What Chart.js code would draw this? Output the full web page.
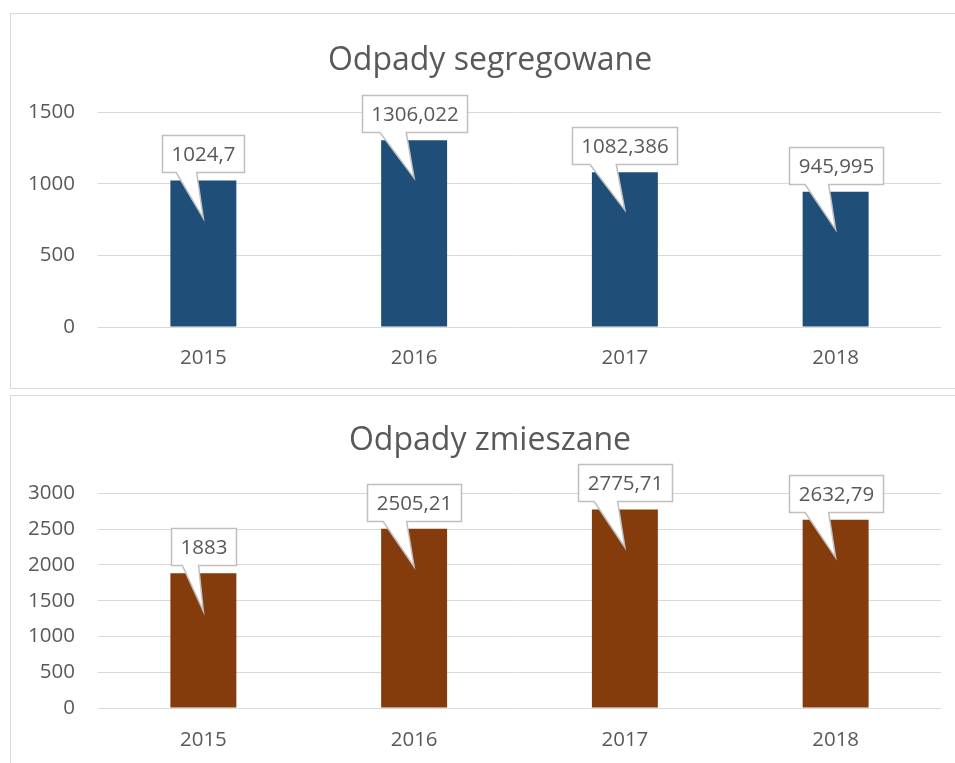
<!DOCTYPE html>
<html lang="pl">
<head>
<meta charset="utf-8">
<title>Odpady</title>
<script src="https://cdn.jsdelivr.net/npm/chart.js@4.4.1/dist/chart.umd.min.js"></script>
<style>
  html, body { margin: 0; padding: 0; background: #fff; overflow: hidden; width: 955px; height: 763px; }
  .box { position: absolute; left: 10px; width: 968px; height: 374px; border: 1px solid #d9d9d9; background: #fff; }
  .box canvas { display: block; }
</style>
</head>
<body>
<div class="box" style="top:13px"><canvas id="c-seg" width="968" height="374"></canvas></div>
<div class="box" style="top:395px"><canvas id="c-mix" width="968" height="374"></canvas></div>
<script>
const YEARS = ["2015", "2016", "2017", "2018"];
const SEGREGOWANE = [1024.7, 1306.022, 1082.386, 945.995];
const ZMIESZANE = [1883, 2505.21, 2775.71, 2632.79];
const SEG_TICKS = { max: 1500, step: 500 };
const MIX_TICKS = { max: 3000, step: 500 };

const TEXT = "#595959";
const GRID = "#d9d9d9";
const FONT = "'Open Sans', sans-serif";
const LABEL_SIZE = 20.5;

Chart.defaults.font.family = FONT;
Chart.defaults.color = TEXT;

function plLabel(v) { return String(v).replace(".", ","); }

// title is centred on the whole frame in the original, not on the plot
const titleShift = {
  id: "titleShift",
  afterLayout(chart) {
    if (chart.titleBlock) chart.titleBlock.left += 28;
  },
};

// Excel-style callout: box above the bar, wedge pointing down into it
const callouts = {
  id: "callouts",
  afterDatasetsDraw(chart) {
    const ctx = chart.ctx;
    const meta = chart.getDatasetMeta(0);
    const values = chart.data.datasets[0].data;
    ctx.save();
    ctx.font = LABEL_SIZE + "px " + FONT;
    meta.data.forEach((bar, i) => {
      const txt = plLabel(values[i]);
      const w = Math.round(ctx.measureText(txt).width) + 18;
      const h = 37;
      const left = Math.round(bar.x - w / 2) + 0.5;
      const bottom = Math.round(bar.y - 8) + 0.5;
      const top = bottom - h;
      const tipY = bar.y + 38;
      ctx.beginPath();
      ctx.moveTo(left, top);
      ctx.lineTo(left + w, top);
      ctx.lineTo(left + w, bottom);
      ctx.lineTo(left + w * 5 / 12, bottom);
      ctx.lineTo(bar.x, tipY);
      ctx.lineTo(left + w * 2 / 12, bottom);
      ctx.lineTo(left, bottom);
      ctx.closePath();
      ctx.fillStyle = "#fff";
      ctx.fill();
      ctx.strokeStyle = "#bfbfbf";
      ctx.lineWidth = 1.5;
      ctx.lineJoin = "miter";
      ctx.stroke();
      ctx.fillStyle = TEXT;
      ctx.textAlign = "center";
      ctx.textBaseline = "middle";
      ctx.fillText(txt, left + w / 2, top + h / 2 + 1);
    });
    ctx.restore();
  },
};

function makeChart(id, title, data, color, ticks, titlePad, xPad) {
  return new Chart(document.getElementById(id), {
    type: "bar",
    data: {
      labels: YEARS,
      datasets: [{ label: title, data, backgroundColor: color, categoryPercentage: 1, barPercentage: 0.313 }],
    },
    options: {
      responsive: false,
      animation: false,
      layout: { padding: { left: 0, right: 38, top: 0, bottom: 18 } },
      plugins: {
        legend: { display: false },
        tooltip: { enabled: false },
        title: {
          display: true,
          text: title,
          color: TEXT,
          font: { size: 32, weight: "normal", lineHeight: 1.2 },
          padding: titlePad,
        },
      },
      scales: {
        x: {
          afterFit: (s) => { s.height = xPad + 24; },
          grid: { display: false, drawTicks: false },
          border: { display: false },
          ticks: { color: TEXT, font: { size: LABEL_SIZE, lineHeight: 1.2 }, padding: xPad },
        },
        y: {
          min: 0,
          max: ticks.max,
          afterFit: (s) => { s.width = 87; },
          grid: { color: GRID, lineWidth: 1, drawTicks: false },
          border: { display: false },
          ticks: { color: TEXT, stepSize: ticks.step, padding: 23, font: { size: LABEL_SIZE }, callback: (v) => String(v) },
        },
      },
    },
    plugins: [titleShift, callouts],
  });
}

makeChart("c-seg", "Odpady segregowane", SEGREGOWANE, "#1f4e79", SEG_TICKS, { top: 28, bottom: 32 }, 19);
makeChart("c-mix", "Odpady zmieszane", ZMIESZANE, "#843c0c", MIX_TICKS, { top: 26, bottom: 33 }, 20);
</script>
</body>
</html>
